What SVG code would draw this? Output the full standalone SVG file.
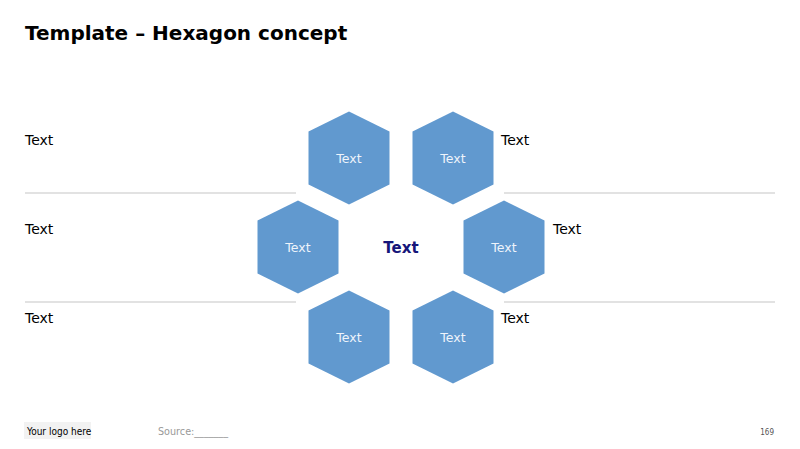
<svg xmlns="http://www.w3.org/2000/svg" width="800" height="449" viewBox="0 0 800 449">
<style>
.hex{fill:#6199cf;stroke:none}
.ht{font-family:"DejaVu Sans",Verdana,sans-serif;font-size:12.5px;fill:#eef4fb;text-anchor:middle}
.lbl{font-family:"DejaVu Sans",Verdana,sans-serif;font-size:14px;fill:#000}
.sep{stroke:#d9d9d9;stroke-width:1.5}
</style>
<defs>
<polygon id="hx" points="0,-46.5 40.5,-26.5 40.5,26.5 0,46.5 -40.5,26.5 -40.5,-26.5"/>
</defs>
<rect width="800" height="449" fill="#fff"/>
<text x="25" y="40" font-family="'DejaVu Sans',Verdana,sans-serif" font-weight="bold" font-size="20" fill="#000">Template – Hexagon concept</text>
<g id="connectors">
<line class="sep" x1="25" y1="193" x2="296" y2="193"/>
<line class="sep" x1="25" y1="302" x2="296" y2="302"/>
<line class="sep" x1="504" y1="193" x2="775" y2="193"/>
<line class="sep" x1="504" y1="302" x2="775" y2="302"/>
</g>
<g id="hex-top-left"><use href="#hx" class="hex" x="349" y="158"/><text class="ht" x="349" y="163">Text</text></g>
<g id="hex-top-right"><use href="#hx" class="hex" x="453" y="158"/><text class="ht" x="453" y="163">Text</text></g>
<g id="hex-mid-left"><use href="#hx" class="hex" x="298" y="247"/><text class="ht" x="298" y="252">Text</text></g>
<g id="hex-mid-right"><use href="#hx" class="hex" x="504" y="247"/><text class="ht" x="504" y="252">Text</text></g>
<g id="hex-bot-left"><use href="#hx" class="hex" x="349" y="337"/><text class="ht" x="349" y="342">Text</text></g>
<g id="hex-bot-right"><use href="#hx" class="hex" x="453" y="337"/><text class="ht" x="453" y="342">Text</text></g>
<g id="center"><text x="401" y="253" font-family="'DejaVu Sans',Verdana,sans-serif" font-weight="bold" font-size="15" fill="#16167a" text-anchor="middle">Text</text></g>
<g id="labels">
<text class="lbl" x="25" y="145">Text</text>
<text class="lbl" x="25" y="234">Text</text>
<text class="lbl" x="25" y="323">Text</text>
<text class="lbl" x="501" y="145">Text</text>
<text class="lbl" x="553" y="234">Text</text>
<text class="lbl" x="501" y="323">Text</text>
</g>
<g id="footer">
<rect x="24" y="422" width="67" height="17" fill="#f2f2f2"/>
<text x="27" y="435" font-family="'Liberation Sans Narrow','DejaVu Sans Condensed',sans-serif" font-size="10" fill="#000">Your logo here</text>
<text x="158" y="435" font-family="'DejaVu Sans Condensed','Liberation Sans',sans-serif" font-size="10" fill="#999" textLength="70" lengthAdjust="spacingAndGlyphs">Source:_______</text>
<text x="774" y="435" font-family="'DejaVu Sans Condensed','Liberation Sans',sans-serif" font-size="8" fill="#555" text-anchor="end">169</text>
</g>
</svg>
